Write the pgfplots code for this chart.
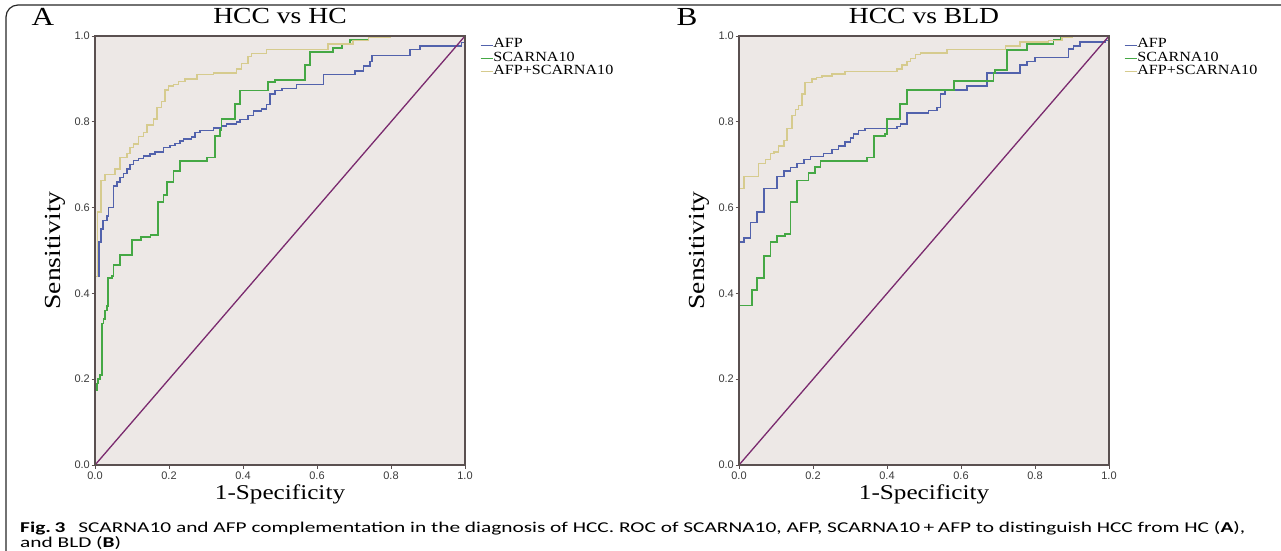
\documentclass[border=0pt]{standalone}
\usepackage{fontspec}
\setmainfont{Liberation Serif}
\setsansfont{Liberation Sans}
\newfontfamily\capfont{Carlito}
\usepackage{graphicx}
\usepackage{pgfplots}
\pgfplotsset{compat=1.18}
\definecolor{rocbg}{HTML}{EDE8E6}
\definecolor{rocframe}{HTML}{5A5050}
\definecolor{afpblue}{HTML}{5262AC}
\definecolor{scgreen}{HTML}{45A845}
\definecolor{combo}{HTML}{D6CB8E}
\definecolor{diag}{HTML}{7A2A6E}
\definecolor{ticktext}{HTML}{3A3A3A}

% serif text in the reference is wider than Times at the same height
\newcommand{\wide}[1]{\scalebox{1.2}[1]{#1}}
\newcommand{\leg}[1]{\scalebox{1.15}[1]{#1}}

\pgfplotsset{
  rocpanel/.style={
    scale only axis, width=370pt, height=429pt, anchor=south west,
    xmin=0, xmax=1, ymin=0, ymax=1,
    axis on top,
    axis background/.style={fill=rocbg},
    axis line style={rocframe, line width=1.4pt},
    tick pos=left, tick align=outside, major tick length=3.5pt,
    tick style={rocframe, line width=1pt},
    xtick={0,0.2,0.4,0.6,0.8,1}, ytick={0,0.2,0.4,0.6,0.8,1},
    /pgf/number format/fixed, /pgf/number format/fixed zerofill,
    /pgf/number format/precision=1, /pgf/number format/assume math mode=true,
    ticklabel style={font=\sffamily\fontsize{11}{12}\selectfont, text=ticktext},
    yticklabel style={inner sep=1.5pt},
    every axis title shift=0pt,
    title style={at={(axis description cs:0.5,1.046)}, anchor=center, font=\fontsize{23}{25}\selectfont},
    xlabel={\wide{1-Specificity}}, ylabel={\wide{Sensitivity}},
    xlabel style={at={(axis description cs:0.5,-0.068)}, anchor=center, font=\fontsize{21}{23}\selectfont},
    ylabel style={at={(axis description cs:-0.108,0.5)}, anchor=center, font=\fontsize{23}{25}\selectfont},
    legend style={at={(axis description cs:1.04,0.995)}, anchor=north west, draw=none, fill=none,
      font=\fontsize{14}{11}\selectfont, inner sep=0pt, row sep=0pt, cells={anchor=west},
      nodes={inner sep=0.3pt, text height=9.3pt, text depth=3.4pt}},
    legend image code/.code={\draw[#1, line width=1pt] (0pt,0pt) -- (12pt,0pt);},
  },
  roc/.style={const plot, no marks, line width=1.5pt},
}

\begin{document}
\begin{tikzpicture}[x=1pt, y=1pt]
\path[use as bounding box] (0,0) rectangle (1281,-550);
\draw[line width=1.2pt, black!85, rounded corners=12pt] (6,-570) -- (6,-5) -- (1300,-5);

\node[font=\fontsize{26}{28}\selectfont] at (43,-17) {\wide{A}};
\node[font=\fontsize{26}{28}\selectfont] at (687,-17) {\wide{B}};

% panel A: HCC vs HC
\begin{axis}[rocpanel, at={(95pt,-465pt)}, title={\wide{HCC vs HC}}]
\addplot[roc, afpblue] coordinates {
 (0,0) (0,0.44) (0.011,0.52) (0.016,0.55) (0.022,0.57) (0.032,0.58) (0.036,0.60)
 (0.050,0.65) (0.059,0.66) (0.068,0.67) (0.077,0.68) (0.086,0.69) (0.095,0.70)
 (0.104,0.71) (0.117,0.715) (0.131,0.72) (0.149,0.725) (0.162,0.73) (0.185,0.74)
 (0.203,0.745) (0.216,0.75) (0.23,0.755) (0.239,0.76) (0.261,0.765) (0.27,0.775)
 (0.284,0.78) (0.32,0.785) (0.342,0.79) (0.356,0.795) (0.383,0.80) (0.392,0.805)
 (0.414,0.815) (0.428,0.825) (0.45,0.83) (0.464,0.84) (0.473,0.865) (0.486,0.873)
 (0.505,0.878) (0.545,0.887) (0.617,0.91) (0.703,0.918) (0.725,0.93) (0.743,0.94)
 (0.748,0.954) (0.851,0.968) (0.878,0.977) (0.99,0.985) (1,1)};
\addlegendentry{\leg{AFP}}
\addplot[roc, scgreen, line width=1.8pt] coordinates {
 (0,0) (0,0.175) (0.005,0.19) (0.009,0.20) (0.014,0.21) (0.018,0.33) (0.023,0.34)
 (0.027,0.36) (0.032,0.37) (0.036,0.435) (0.045,0.44) (0.050,0.466) (0.068,0.49)
 (0.099,0.524) (0.125,0.532) (0.150,0.537) (0.171,0.614) (0.185,0.63) (0.194,0.66)
 (0.212,0.685) (0.23,0.708) (0.302,0.717) (0.324,0.766) (0.338,0.78) (0.342,0.806)
 (0.378,0.842) (0.392,0.873) (0.468,0.892) (0.486,0.898) (0.568,0.932) (0.581,0.963)
 (0.644,0.972) (0.667,0.98) (0.69,0.99) (0.739,1.0) (1,1)};
\addlegendentry{\leg{SCARNA10}}
\addplot[roc, combo] coordinates {
 (0,0) (0,0.44) (0.007,0.59) (0.016,0.663) (0.027,0.677) (0.054,0.69) (0.068,0.717)
 (0.086,0.726) (0.095,0.74) (0.104,0.748) (0.117,0.766) (0.131,0.775) (0.14,0.793)
 (0.158,0.806) (0.167,0.833) (0.18,0.847) (0.189,0.874) (0.198,0.883) (0.212,0.887)
 (0.225,0.894) (0.243,0.90) (0.275,0.91) (0.32,0.914) (0.383,0.923) (0.396,0.936)
 (0.414,0.952) (0.423,0.959) (0.464,0.968) (0.63,0.981) (0.697,0.99) (0.739,0.997)
 (0.797,1.0) (1,1)};
\addlegendentry{\leg{AFP+SCARNA10}}
\addplot[diag, line width=1.3pt, forget plot] coordinates {(0,0) (1,1)};
\end{axis}

% panel B: HCC vs BLD
\begin{axis}[rocpanel, at={(739pt,-465pt)}, title={\wide{HCC vs BLD}}]
\addplot[roc, afpblue] coordinates {
 (0,0) (0,0.52) (0.013,0.529) (0.031,0.565) (0.049,0.59) (0.067,0.645) (0.103,0.672)
 (0.121,0.685) (0.139,0.694) (0.157,0.703) (0.175,0.712) (0.193,0.719) (0.229,0.726)
 (0.251,0.735) (0.269,0.744) (0.287,0.753) (0.301,0.762) (0.31,0.771) (0.323,0.78)
 (0.341,0.784) (0.427,0.789) (0.436,0.795) (0.454,0.82) (0.512,0.826) (0.535,0.833)
 (0.544,0.865) (0.557,0.874) (0.616,0.883) (0.67,0.914) (0.76,0.932) (0.778,0.94)
 (0.8,0.95) (0.891,0.97) (0.904,0.977) (0.922,0.986) (0.99,0.99) (1,1)};
\addlegendentry{\leg{AFP}}
\addplot[roc, scgreen, line width=1.8pt] coordinates {
 (0,0) (0,0.372) (0.035,0.408) (0.049,0.435) (0.067,0.488) (0.085,0.52) (0.103,0.533)
 (0.125,0.538) (0.139,0.614) (0.157,0.663) (0.188,0.681) (0.206,0.694) (0.22,0.708)
 (0.346,0.717) (0.364,0.766) (0.395,0.771) (0.40,0.806) (0.436,0.842) (0.454,0.874)
 (0.58,0.896) (0.688,0.914) (0.692,0.92) (0.724,0.968) (0.778,0.981) (0.85,0.99)
 (0.87,1.0) (1,1)};
\addlegendentry{\leg{SCARNA10}}
\addplot[roc, combo] coordinates {
 (0,0) (0,0.645) (0.013,0.672) (0.053,0.703) (0.071,0.712) (0.085,0.726) (0.094,0.73)
 (0.107,0.744) (0.121,0.757) (0.13,0.784) (0.143,0.815) (0.152,0.829) (0.161,0.838)
 (0.17,0.865) (0.179,0.892) (0.197,0.90) (0.21,0.903) (0.224,0.907) (0.251,0.911)
 (0.287,0.917) (0.427,0.923) (0.441,0.932) (0.454,0.941) (0.463,0.948) (0.477,0.957)
 (0.49,0.96) (0.562,0.968) (0.72,0.977) (0.76,0.986) (0.837,0.99) (0.873,0.997)
 (0.9,1.0) (1,1)};
\addlegendentry{\leg{AFP+SCARNA10}}
\addplot[diag, line width=1.3pt, forget plot] coordinates {(0,0) (1,1)};
\end{axis}

\node[anchor=base west, inner sep=0pt] at (20,-532)
 {\resizebox{1225pt}{\height}{\capfont\fontsize{15}{13.5}\selectfont
  \begin{tabular}[t]{@{}l@{}}
  \textbf{Fig.\,3}\hspace{0.6em}SCARNA10 and AFP complementation in the diagnosis of HCC. ROC of SCARNA10, AFP, SCARNA10\,+\,AFP to distinguish HCC from HC (\textbf{A}),\\
  and BLD (\textbf{B})
  \end{tabular}}};
\end{tikzpicture}
\end{document}
